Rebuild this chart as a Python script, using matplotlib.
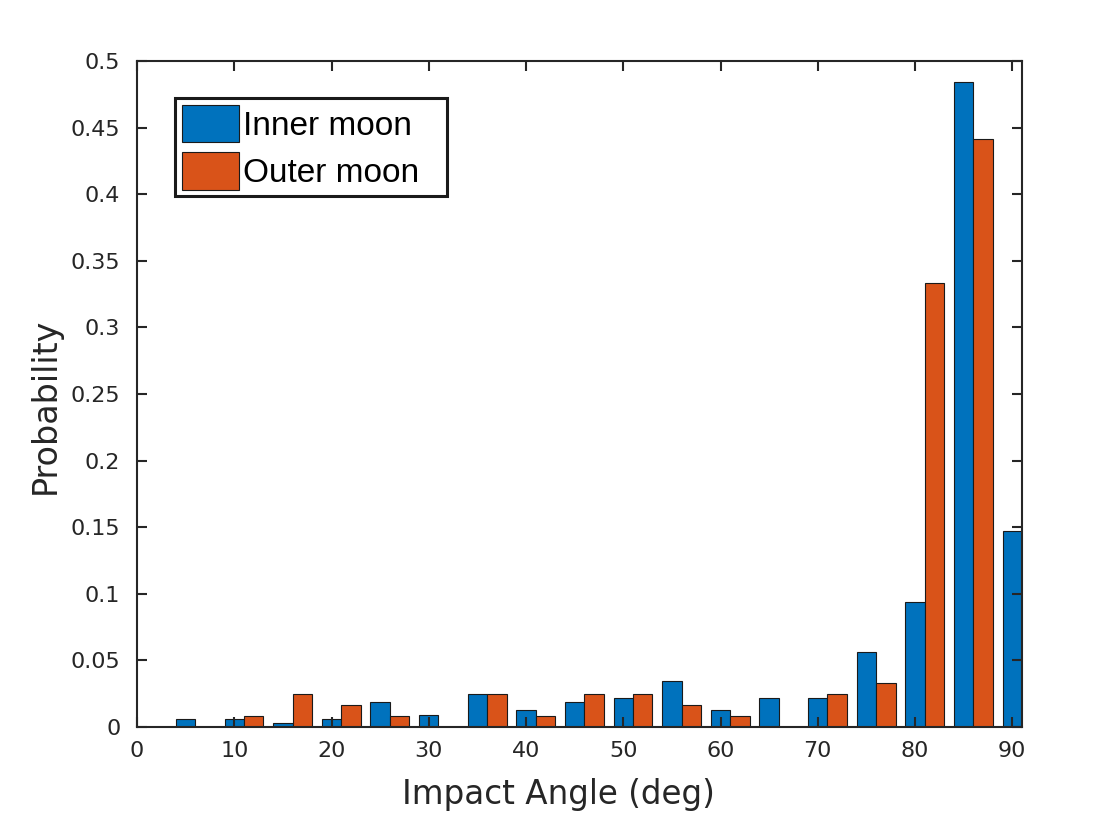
import numpy as np
import matplotlib
matplotlib.use('Agg')
import matplotlib.pyplot as plt

# group centres (deg) and probabilities
angle = np.arange(1, 92, 5)
inner = [0, 0.00625, 0.00625, 0.003125, 0.00625, 0.01875, 0.009375, 0.025, 0.0125,
         0.01875, 0.021875, 0.034375, 0.0125, 0.021875, 0.021875, 0.05625, 0.09375,
         0.484375, 0.146875]
outer = [0, 0, 0.008333, 0.025, 0.016667, 0.008333, 0, 0.025, 0.008333, 0.025,
         0.025, 0.016667, 0.008333, 0, 0.025, 0.033333, 0.333333, 0.441667, 0]
labels = ['Inner moon', 'Outer moon']

ax_col = '#262626'
blue = '#0072BD'
orange = '#D95319'

fig = plt.figure(figsize=(11.13, 8.18), dpi=100)
ax = fig.add_axes([137/1113, 91/818, 885/1113, 666/818])

ax.bar(angle - 1, inner, width=2, color=blue, edgecolor='#1a1a1a', linewidth=0.8, label=labels[0])
ax.bar(angle + 1, outer, width=2, color=orange, edgecolor='#1a1a1a', linewidth=0.8, label=labels[1])

ax.set_xlim(0, 91)
ax.set_ylim(0, 0.5)
ax.set_xticks(np.arange(0, 91, 10))
yt = np.round(np.arange(0, 0.501, 0.05), 2)
ax.set_yticks(yt)
ax.set_yticklabels(['%g' % v for v in yt])

for s in ax.spines.values():
    s.set_color(ax_col)
    s.set_linewidth(1.5)
ax.tick_params(direction='in', length=7, width=1.5, color=ax_col, labelcolor=ax_col,
               labelsize=16, top=True, right=True)
ax.tick_params(axis='y', pad=12)
ax.tick_params(axis='x', pad=10)

ax.set_xlabel('Impact Angle (deg)', fontsize=23.5, color=ax_col)
ax.set_ylabel('Probability', fontsize=24, color=ax_col)
ax.xaxis.set_label_coords(0.476, -0.077)
ax.yaxis.set_label_coords(-0.085, 0.482)

leg = ax.legend(loc='upper left', mode='expand',
                bbox_to_anchor=(175/1113, 1 - 198/818, 272/1113, 100/818),
                bbox_transform=fig.transFigure, fancybox=False, framealpha=1,
                prop={'family': 'Liberation Sans', 'size': 24},
                handlelength=1.71, handleheight=1.35, handletextpad=0.12,
                borderpad=0.2, borderaxespad=0, labelspacing=0.3)
leg.get_frame().set_edgecolor('#1a1a1a')
leg.get_frame().set_linewidth(2.2)

fig.savefig('out.png', dpi=100)
